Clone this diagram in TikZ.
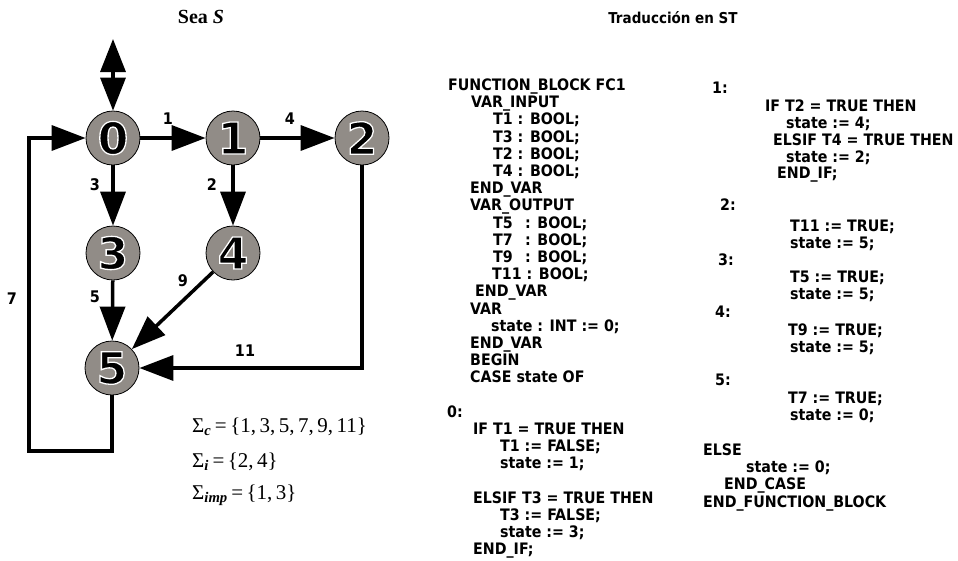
\documentclass[tikz,border=0pt]{standalone}
\usepackage{fontspec}
\usetikzlibrary{arrows.meta}
\newfontfamily\codefont{DejaVu Sans Condensed}
\newfontfamily\digfont{DejaVu Sans}
\newfontfamily\serfont{Liberation Serif}
\definecolor{nodegray}{RGB}{145,140,135}
\newcommand\halo[1]{\leavevmode\special{pdf:literal direct 2 Tr 1.3 w 1 1 1 RG}#1\special{pdf:literal direct 0 Tr 0 0 0 RG}}
\newcommand\cl[4]{\node[code] (#1) at (#2,#3+5.4) {#4};}
\begin{document}
\begin{tikzpicture}[x=1pt,y=-1pt,
  stnode/.style={circle, draw=black, line width=0.8pt, fill=nodegray,
    minimum size=54pt, inner sep=0pt,
    font=\digfont\bfseries\fontsize{44}{44}\selectfont},
  edge/.style={line width=3.5pt, -{Triangle[length=34pt,width=25pt]}},
  lbl/.style={font=\codefont\bfseries\fontsize{16}{16}\selectfont, inner sep=0pt},
  code/.style={font=\codefont\bfseries\fontsize{15.8}{17.2}\selectfont,
    anchor=base west, inner sep=0pt},
  sig/.style={font=\serfont\fontsize{21}{21}\selectfont, anchor=west, inner sep=0pt}]
\useasboundingbox (0,0) rectangle (958,560);

% titles
\node[font=\serfont\bfseries\fontsize{20}{20}\selectfont] (t1) at (201,17) {Sea \textit{S}};
\node[font=\codefont\bfseries\fontsize{15}{15}\selectfont] (t2) at (673,18) {Traducción en ST};

% states
\node[stnode] (n0) at (113,138) {\halo{0}};
\node[stnode] (n1) at (233,138) {\halo{1}};
\node[stnode] (n2) at (362,138) {\halo{2}};
\node[stnode] (n3) at (113,253) {\halo{3}};
\node[stnode] (n4) at (233,253) {\halo{4}};
\node[stnode] (n5) at (112,368) {\halo{5}};

\coordinate (top) at (113,39);
\coordinate (c7) at (29,451);

\draw[line width=3.5pt, {Triangle[length=33pt,width=25pt]}-{Triangle[length=33pt,width=25pt]}] (top) -- (n0);
\draw[edge] (n0) -- (n1);
\draw[edge] (n1) -- (n2);
\draw[edge] (n0) -- (n3);
\draw[edge] (n1) -- (n4);
\draw[edge] (n3) -- (n5);
\draw[edge] (n4) -- (n5);
\draw[edge] (n2) -- (n2 |- n5) -- (n5);
\draw[edge] (n5.south) |- (c7) |- (n0);

% edge labels
\node[lbl] (l1) at (168,119) {1};
\node[lbl] (l4) at (290,119) {4};
\node[lbl] (l3) at (95,185) {3};
\node[lbl] (l2) at (212,185) {2};
\node[lbl] (l5) at (95,297) {5};
\node[lbl] (l9) at (183,281) {9};
\node[lbl] (l11) at (245,351) {11};
\node[lbl] (l7) at (12,299) {7};

% alphabets
\node[sig] (s1) at (192,427) {Σ\textsubscript{\textbf{\textit{c}}}\,=\,\{1,\,3,\,5,\,7,\,9,\,11\}};
\node[sig] (s2) at (192,462) {Σ\textsubscript{\textbf{\textit{i}}}\,=\,\{2,\,4\}};
\node[sig] (s3) at (192,495) {Σ\textsubscript{\textbf{\textit{imp}}}\,=\,\{1,\,3\}};

% left code column
\cl{a1}{448}{85}{FUNCTION\_BLOCK FC1}
\cl{a2}{471}{102.2}{VAR\_INPUT}
\cl{a3}{493}{119.4}{T1 : BOOL;}
\cl{a4}{493}{136.6}{T3 : BOOL;}
\cl{a5}{493}{153.8}{T2 : BOOL;}
\cl{a6}{493}{171}{T4 : BOOL;}
\cl{a7}{470}{188.2}{END\_VAR}
\cl{a8}{470}{205.4}{VAR\_OUTPUT}
\cl{a9}{493}{222.6}{\makebox[32pt][l]{T5}: BOOL;}
\cl{a10}{493}{239.8}{\makebox[32pt][l]{T7}: BOOL;}
\cl{a11}{493}{257}{\makebox[32pt][l]{T9}: BOOL;}
\cl{a12}{492}{274.2}{T11 : BOOL;}
\cl{a13}{475}{291.4}{END\_VAR}
\cl{a14}{470}{308.6}{VAR}
\cl{a15}{491}{325.8}{state : INT := 0;}
\cl{a16}{470}{343}{END\_VAR}
\cl{a17}{470}{360.2}{BEGIN}
\cl{a18}{470}{377.4}{CASE state OF}
\cl{a19}{447}{411.8}{0:}
\cl{a20}{473}{429}{IF T1 = TRUE THEN}
\cl{a21}{500}{446.2}{T1 := FALSE;}
\cl{a22}{500}{463.4}{state := 1;}
\cl{a23}{473}{497.8}{ELSIF T3 = TRUE THEN}
\cl{a24}{500}{515}{T3 := FALSE;}
\cl{a25}{500}{532.2}{state := 3;}
\cl{a26}{473}{549.4}{END\_IF;}

% right code column
\cl{b1}{712}{88}{1:}
\cl{b2}{765}{106}{IF T2 = TRUE THEN}
\cl{b3}{786}{123}{state := 4;}
\cl{b4}{773}{140}{ELSIF T4 = TRUE THEN}
\cl{b5}{786}{157}{state := 2;}
\cl{b6}{777}{173}{END\_IF;}
\cl{b7}{720}{205}{2:}
\cl{b8}{790}{226}{T11 := TRUE;}
\cl{b9}{790}{243}{state := 5;}
\cl{b10}{718}{260}{3:}
\cl{b11}{790}{277}{T5 := TRUE;}
\cl{b12}{790}{294}{state := 5;}
\cl{b13}{715}{312}{4:}
\cl{b14}{788}{330}{T9 := TRUE;}
\cl{b15}{790}{347}{state := 5;}
\cl{b16}{715}{380}{5:}
\cl{b17}{788}{398}{T7 := TRUE;}
\cl{b18}{790}{415}{state := 0;}
\cl{b19}{703}{450}{ELSE}
\cl{b20}{746}{467}{state := 0;}
\cl{b21}{724}{484}{END\_CASE}
\cl{b22}{703}{502}{END\_FUNCTION\_BLOCK}
\end{tikzpicture}
\end{document}
